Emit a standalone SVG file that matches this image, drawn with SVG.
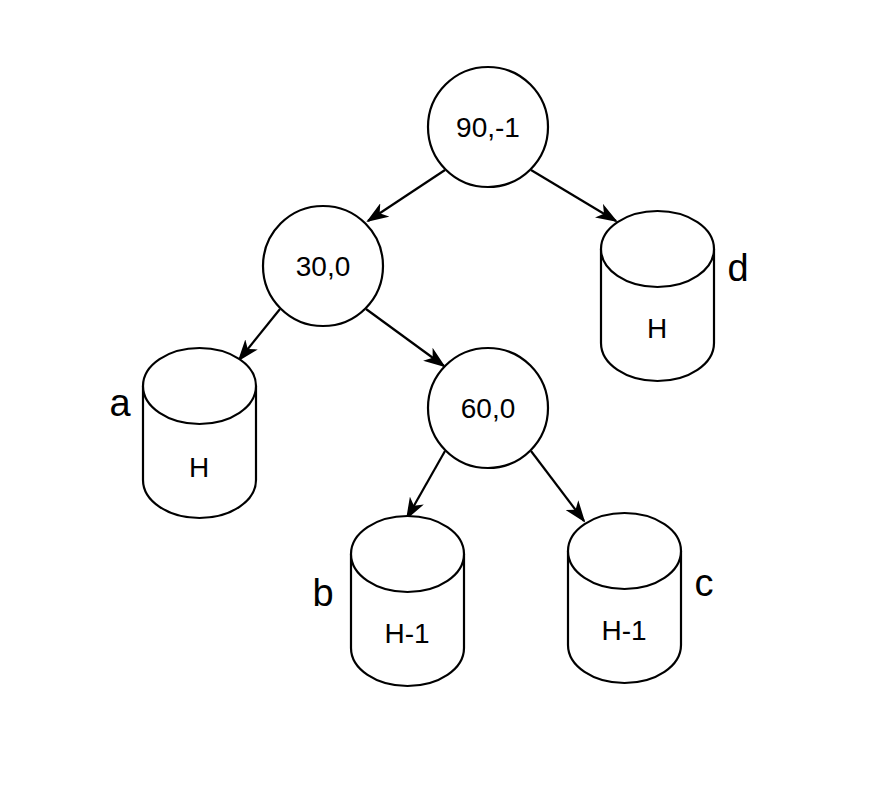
<svg xmlns="http://www.w3.org/2000/svg" width="880" height="786" viewBox="0 0 880 786">
<style>
.s{fill:#fff;stroke:#000;stroke-width:2.2}
.t{font-family:"Liberation Sans",Arial,sans-serif;font-size:28px;fill:#000;text-anchor:middle;dominant-baseline:central}
.l{font-family:"Liberation Sans",Arial,sans-serif;font-size:38px;fill:#000;text-anchor:middle;dominant-baseline:central}
.e{stroke:#000;stroke-width:2.2;fill:none;marker-end:url(#ah)}
</style>
<defs>
<marker id="ah" viewBox="0 0 22 16" refX="20" refY="8" markerWidth="22" markerHeight="16" markerUnits="userSpaceOnUse" orient="auto">
<path d="M0,0 L22,8 L0,16 L6,8 Z" fill="#000"/>
</marker>
<g id="cyl">
<path class="s" d="M0,38 A56.5,38 0 0 1 113,38 L113,132 A56.5,38 0 0 1 0,132 Z"/>
<path class="s" d="M0,38 A56.5,38 0 0 0 113,38" fill="none"/>
</g>
</defs>
<rect width="880" height="786" fill="#fff"/>
<g id="connectors">
<line class="e" x1="445" y1="170" x2="368" y2="221"/>
<line class="e" x1="531" y1="170" x2="616" y2="221"/>
<line class="e" x1="280" y1="309" x2="239" y2="360"/>
<line class="e" x1="366" y1="309" x2="444" y2="366"/>
<line class="e" x1="445" y1="451" x2="407" y2="518"/>
<line class="e" x1="531" y1="451" x2="584" y2="521"/>
</g>
<g id="n90">
<circle class="s" cx="488" cy="127" r="60"/>
<text class="t" x="488" y="127">90,-1</text>
</g>
<g id="n30">
<circle class="s" cx="323" cy="266" r="60"/>
<text class="t" x="323" y="266">30,0</text>
</g>
<g id="n60">
<circle class="s" cx="488" cy="408" r="60"/>
<text class="t" x="488" y="408">60,0</text>
</g>
<g id="a">
<use href="#cyl" x="143" y="348"/>
<text class="t" x="199" y="467">H</text>
<text class="l" x="120" y="403">a</text>
</g>
<g id="d">
<use href="#cyl" x="601" y="211"/>
<text class="t" x="657" y="328">H</text>
<text class="l" x="738" y="268">d</text>
</g>
<g id="b">
<use href="#cyl" x="351" y="516"/>
<text class="t" x="407" y="633">H-1</text>
<text class="l" x="323" y="593">b</text>
</g>
<g id="c">
<use href="#cyl" x="568" y="513"/>
<text class="t" x="624" y="630">H-1</text>
<text class="l" x="704" y="583">c</text>
</g>
</svg>
